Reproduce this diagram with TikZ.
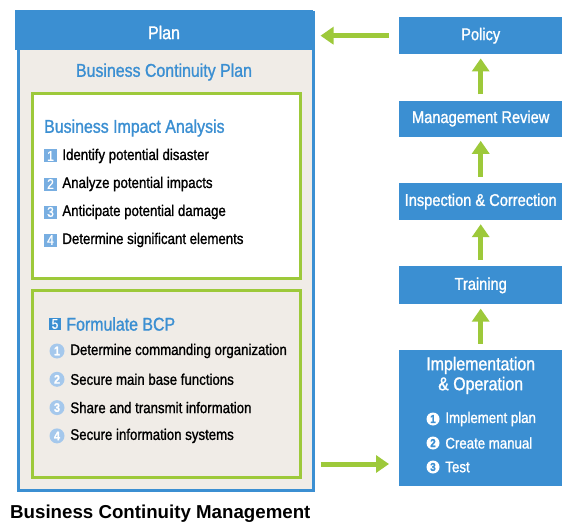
\documentclass[tikz,border=0pt]{standalone}
\usepackage{fontspec}
\setmainfont{Liberation Sans}
\newfontfamily\condfont[FakeStretch=0.86, FakeBold=1.2]{Liberation Sans}
\usetikzlibrary{arrows.meta, positioning}
\definecolor{bcmblue}{RGB}{59,143,210}
\definecolor{bcmgreen}{RGB}{157,201,58}
\definecolor{bcmbeige}{RGB}{240,236,231}
\definecolor{bcmsquare}{RGB}{120,174,225}
\definecolor{bcmdot}{RGB}{165,200,236}
\tikzset{
  stagebox/.style={fill=bcmblue, text=white, minimum width=163pt, inner sep=0pt, font=\condfont\fontsize{17}{20}\selectfont},
  greenbox/.style={draw=bcmgreen, line width=3pt, minimum width=268pt, anchor=north west},
  headline/.style={text=bcmblue, inner sep=0pt, font=\condfont\fontsize{18.5}{20}\selectfont},
  itemtext/.style={anchor=west, inner sep=0pt, font=\condfont\fontsize{15.4}{17}\selectfont},
  numsquare/.style={fill=bcmsquare, text=white, minimum size=13pt, inner sep=0pt, font=\condfont\fontsize{14}{14}\selectfont},
  numdot/.style={circle, fill=bcmdot, text=white, minimum size=15pt, inner sep=0pt, font=\condfont\bfseries\fontsize{12.5}{12.5}\selectfont},
  flow/.style={draw=bcmgreen, line width=5pt, -{Triangle[length=13pt, width=17pt]}},
}

\begin{document}
\begin{tikzpicture}[x=1pt, y=-1pt]
\useasboundingbox (0,0) rectangle (565,524);

  % Plan side
  \node[draw=bcmblue, line width=3pt, fill=bcmbeige, minimum width=295pt, minimum height=477pt, anchor=north west] (plan) at (16.5,11.5) {};
  \node[fill=bcmblue, minimum width=298pt, minimum height=40pt, inner sep=0pt, anchor=north west] (planhead) at (15,10) {};
  \node[headline, text=white] (plantitle) at (164,32.5) {Plan};
  \node[headline] (bcp) at (164,72) {Business Continuity Plan};

  % Business impact analysis
  \node[greenbox, fill=white, minimum height=184pt] (bia) at (30.5,92.5) {};
  \node[headline, anchor=west] (biatitle) at (44,128) {Business Impact Analysis};
  \foreach \n/\txt [count=\i from 0] in {1/Identify potential disaster, 2/Analyze potential impacts, 3/Anticipate potential damage, 4/Determine significant elements}{
    \node[numsquare] (sq\n) at (50.5,{156+28*\i}) {\n};
    \node[itemtext, right=5pt of sq\n] (bia\n) {\txt};
  }

  % Formulate BCP
  \node[greenbox, fill=bcmbeige, minimum height=187pt] (bcpbox) at (30.5,288.5) {};
  \node[numsquare, fill=bcmblue, minimum size=12pt] (sq5) at (55,324) {5};
  \node[headline, right=5pt of sq5] (bcptitle) {Formulate BCP};
  \foreach \n/\txt [count=\i from 0] in {1/Determine commanding organization, 2/Secure main base functions, 3/Share and transmit information, 4/Secure information systems}{
    \node[numdot] (dot\n) at (57,{351+28.3*\i}) {\n};
    \node[itemtext, right=5.5pt of dot\n] (bcp\n) {\txt};
  }

  % Management cycle
  \node[stagebox, minimum height=37pt, anchor=north west] (policy) at (399,17) {Policy};
  \node[stagebox, minimum height=36pt, below=46pt of policy] (review) {Management Review};
  \node[stagebox, minimum height=37pt, below=46pt of review] (inspect) {Inspection \& Correction};
  \node[stagebox, minimum height=38pt, below=46pt of inspect] (training) {Training};
  \node[stagebox, minimum height=136pt, below=45pt of training] (impl) {};
  \node[headline, text=white, align=center, below=7pt of impl.north] (impltitle) {Implementation\\\& Operation};
  \foreach \n/\txt [count=\i from 0] in {1/Implement plan, 2/Create manual, 3/Test}{
    \node[numdot, fill=white, text=bcmblue, minimum size=13pt, font=\condfont\bfseries\fontsize{11.5}{11.5}\selectfont] (idot\n) at (433,{419+24*\i}) {\n};
    \node[itemtext, text=white, right=5.5pt of idot\n] (impl\n) {\txt};
  }

  % Arrows
  \foreach \a/\b in {review/policy, inspect/review, training/inspect, impl/training}
    \draw[flow, shorten <=6pt, shorten >=4pt] (\a) -- (\b);
  \draw[flow, shorten <=10pt, shorten >=6pt] (policy.west) -- (policy.west -| plan.east);
  \draw[flow, shorten <=6pt, shorten >=10pt] ([yshift=3pt]plan.east |- idot3) -- ([yshift=3pt]impl.west |- idot3);

  \node[anchor=west, inner sep=0pt, font=\bfseries\fontsize{18.7}{21}\selectfont] (caption) at (10,514) {Business Continuity Management};

\end{tikzpicture}
\end{document}
